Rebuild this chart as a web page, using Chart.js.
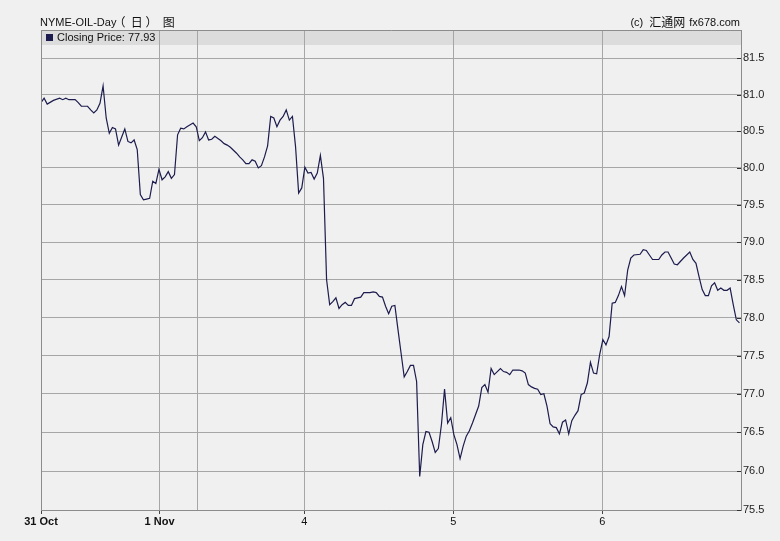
<!DOCTYPE html>
<html>
<head>
<meta charset="utf-8">
<script src="https://cdn.jsdelivr.net/npm/chart.js@4/dist/chart.umd.min.js"></script>
<style>
  body { margin: 0; background: #f0f0f0; }
  #wrap { width: 780px; height: 541px; }
</style>
</head>
<body>
<div id="wrap"><canvas id="oilChart" width="780" height="541"></canvas></div>
<script>
// half-hour bar index and closing price
const bars = [
  0, 1, 2, 4, 6, 7, 8, 9, 11, 12, 13, 14, 15, 16, 17, 18, 19, 20, 21, 22,
  23, 24, 25, 26, 27, 28, 29, 30, 31, 32, 33, 34, 35, 36, 37, 38, 39, 40, 41, 42,
  43, 44, 45, 46, 47, 49, 50, 51, 52, 53, 54, 55, 56, 58, 59, 60, 61, 62, 63, 64,
  65, 66, 67, 68, 69, 70, 71, 72, 73, 74, 75, 76, 77, 78, 79, 80, 81, 82, 83, 84,
  85, 86, 87, 88, 89, 90, 91, 92, 93, 94, 95, 96, 97, 98, 99, 100, 101, 103, 104, 106,
  107, 108, 109, 110, 111, 112, 113, 114, 115, 116, 117, 118, 119, 120, 121, 122, 123, 124, 125, 126,
  127, 128, 129, 130, 131, 132, 133, 134, 135, 136, 137, 138, 139, 140, 141, 142, 143, 144, 145, 146,
  147, 148, 149, 150, 151, 152, 154, 155, 156, 157, 158, 159, 160, 161, 162, 163, 164, 165, 166, 167,
  168, 169, 170, 171, 172, 173, 174, 175, 176, 177, 178, 179, 180, 181, 182, 183, 184, 185, 186, 187,
  188, 189, 190, 191, 193, 194, 195, 196, 197, 199, 200, 201, 202, 203, 204, 205, 207, 209, 210, 211,
  212, 213, 214, 215, 216, 217, 218, 219, 220, 221, 222, 223, 224, 225
];
const closes = [
  80.89, 80.95, 80.87, 80.92, 80.95, 80.93, 80.95, 80.93, 80.93, 80.89, 80.84, 80.84, 80.84, 80.79, 80.75, 80.79, 80.88, 81.12, 80.68, 80.47,
  80.55, 80.53, 80.31, 80.42, 80.53, 80.36, 80.34, 80.38, 80.25, 79.64, 79.57, 79.58, 79.59, 79.82, 79.79, 79.98, 79.84, 79.88, 79.95, 79.86,
  79.91, 80.45, 80.54, 80.53, 80.56, 80.61, 80.56, 80.37, 80.41, 80.49, 80.38, 80.39, 80.43, 80.37, 80.33, 80.31, 80.28, 80.24, 80.20, 80.15,
  80.11, 80.06, 80.06, 80.11, 80.09, 80.00, 80.03, 80.15, 80.30, 80.70, 80.68, 80.56, 80.65, 80.70, 80.79, 80.65, 80.70, 80.29, 79.66, 79.73,
  80.01, 79.93, 79.94, 79.85, 79.93, 80.17, 79.86, 78.50, 78.17, 78.21, 78.26, 78.12, 78.17, 78.20, 78.16, 78.16, 78.25, 78.27, 78.33, 78.33,
  78.34, 78.33, 78.28, 78.27, 78.15, 78.05, 78.15, 78.16, 77.84, 77.53, 77.22, 77.29, 77.37, 77.37, 77.16, 75.93, 76.34, 76.51, 76.50, 76.38,
  76.24, 76.29, 76.60, 77.06, 76.62, 76.69, 76.47, 76.34, 76.16, 76.32, 76.45, 76.52, 76.62, 76.73, 76.84, 77.08, 77.12, 77.02, 77.33, 77.25,
  77.29, 77.33, 77.29, 77.28, 77.25, 77.31, 77.31, 77.30, 77.27, 77.12, 77.09, 77.07, 77.06, 76.99, 77.00, 76.84, 76.61, 76.57, 76.56, 76.48,
  76.63, 76.66, 76.48, 76.65, 76.72, 76.78, 76.99, 77.01, 77.14, 77.41, 77.27, 77.26, 77.52, 77.71, 77.64, 77.75, 78.19, 78.20, 78.29, 78.41,
  78.29, 78.63, 78.79, 78.83, 78.84, 78.90, 78.89, 78.83, 78.77, 78.77, 78.83, 78.87, 78.87, 78.79, 78.71, 78.70, 78.79, 78.87, 78.77, 78.72,
  78.54, 78.37, 78.29, 78.29, 78.42, 78.46, 78.36, 78.39, 78.36, 78.36, 78.39, 78.17, 77.97, 77.93
];
// session boundaries (in bars) and their labels
const dayTicks = [0, 38.2, 50.4, 84.8, 132.8, 180.8];
const dayLabels = ["31 Oct", "1 Nov", "", "4", "5", "6"];
const priceTicks = [75.5, 76.0, 76.5, 77.0, 77.5, 78.0, 78.5, 79.0, 79.5, 80.0, 80.5, 81.0, 81.5];

const FONT = '"Liberation Sans", Arial, "Noto Sans CJK SC", sans-serif';
const CJK = '"Noto Sans CJK SC", sans-serif';
const LINE = "#1c1c4e";

Chart.defaults.font.family = FONT;
Chart.defaults.font.size = 11;

// panel background, header strip, frame, inner y ticks, titles, legend
const decor = {
  id: "decor",
  beforeDraw(chart) {
    const { ctx, chartArea: a } = chart;
    ctx.save();
    ctx.fillStyle = "#f0f0f0";
    ctx.fillRect(0, 0, chart.width, chart.height);
    ctx.fillStyle = "#dcdcdc";
    ctx.fillRect(a.left, a.top, a.right - a.left, 15);
    ctx.restore();
  },
  afterDraw(chart) {
    const { ctx, chartArea: a } = chart;
    const y = chart.scales.y;
    ctx.save();
    ctx.strokeStyle = "#8c8c8c";
    ctx.lineWidth = 1;
    ctx.beginPath();
    ctx.moveTo(a.left + 0.5, a.bottom);
    ctx.lineTo(a.left + 0.5, a.top + 0.5);
    ctx.lineTo(a.right, a.top + 0.5);
    ctx.stroke();

    ctx.strokeStyle = "#333";
    priceTicks.forEach(v => {
      const py = Math.round(y.getPixelForValue(v)) + 0.5;
      ctx.beginPath();
      ctx.moveTo(a.right - 4, py);
      ctx.lineTo(a.right, py);
      ctx.stroke();
    });

    // title, left
    ctx.fillStyle = "#111";
    ctx.textBaseline = "middle";
    ctx.textAlign = "left";
    ctx.font = "11px " + FONT;
    const t1 = "NYME-OIL-Day";
    ctx.fillText(t1, a.left - 1, 23);
    let tx = a.left - 1 + ctx.measureText(t1).width;
    ctx.font = "12px " + CJK;
    ctx.fillText("（  日 ）  图", tx - 3, 22);

    // credit, right
    ctx.textAlign = "right";
    ctx.font = "11px " + FONT;
    let rx = a.right - 1;
    ctx.fillText("fx678.com", rx, 23);
    rx -= ctx.measureText("fx678.com").width + 4;
    ctx.font = "12px " + CJK;
    ctx.fillText("汇通网", rx, 22);
    rx -= ctx.measureText("汇通网").width + 6;
    ctx.font = "11px " + FONT;
    ctx.fillText("(c)", rx, 23);

    // legend
    const ds = chart.data.datasets[0];
    ctx.fillStyle = LINE;
    ctx.fillRect(a.left + 5, a.top + 4, 7, 7);
    ctx.fillStyle = "#111";
    ctx.textAlign = "left";
    ctx.font = "11px " + FONT;
    ctx.fillText(ds.label + ": " + closes[closes.length - 1].toFixed(2), a.left + 16, a.top + 8);
    ctx.restore();
  }
};

const ctx = document.getElementById("oilChart").getContext("2d");

new Chart(ctx, {
  type: "line",
  data: {
    datasets: [
      {
        label: "Closing Price",
        data: bars.map((b, i) => ({ x: b, y: closes[i] })),
        borderColor: LINE,
        borderWidth: 1.2,
        pointRadius: 0,
        tension: 0,
        fill: false,
      },
    ],
  },
  options: {
    responsive: false,
    devicePixelRatio: 1,
    animation: false,
    layout: { padding: { left: 41, top: 30, right: 0, bottom: 0 } },
    plugins: { legend: { display: false }, tooltip: { enabled: false } },
    scales: {
      x: {
        type: "linear",
        min: 0,
        max: 225.5,
        afterBuildTicks: s => { s.ticks = dayTicks.map(v => ({ value: v })); },
        afterFit: s => { s.height = 31; },
        grid: {
          color: "#a6a6a6",
          tickLength: 4,
          tickColor: c => (dayLabels[c.index] ? "#444" : "rgba(0,0,0,0)"),
        },
        border: { color: "#8c8c8c" },
        ticks: {
          autoSkip: false,
          maxRotation: 0,
          padding: 1,
          color: "#111",
          callback: (v, i) => dayLabels[i],
          font: c => ({ size: 11, weight: c.index < 2 ? "bold" : "normal" }),
        },
      },
      y: {
        type: "logarithmic",
        position: "right",
        min: 75.5,
        max: 81.89,
        afterBuildTicks: s => { s.ticks = priceTicks.map(v => ({ value: v })); },
        afterFit: s => { s.width = 39; },
        grid: { color: "#a6a6a6", drawTicks: false },
        border: { color: "#8c8c8c" },
        ticks: {
          padding: 2,
          color: "#222",
          callback: v => Number(v).toFixed(1),
        },
      },
    },
  },
  plugins: [decor],
});
</script>
</body>
</html>
